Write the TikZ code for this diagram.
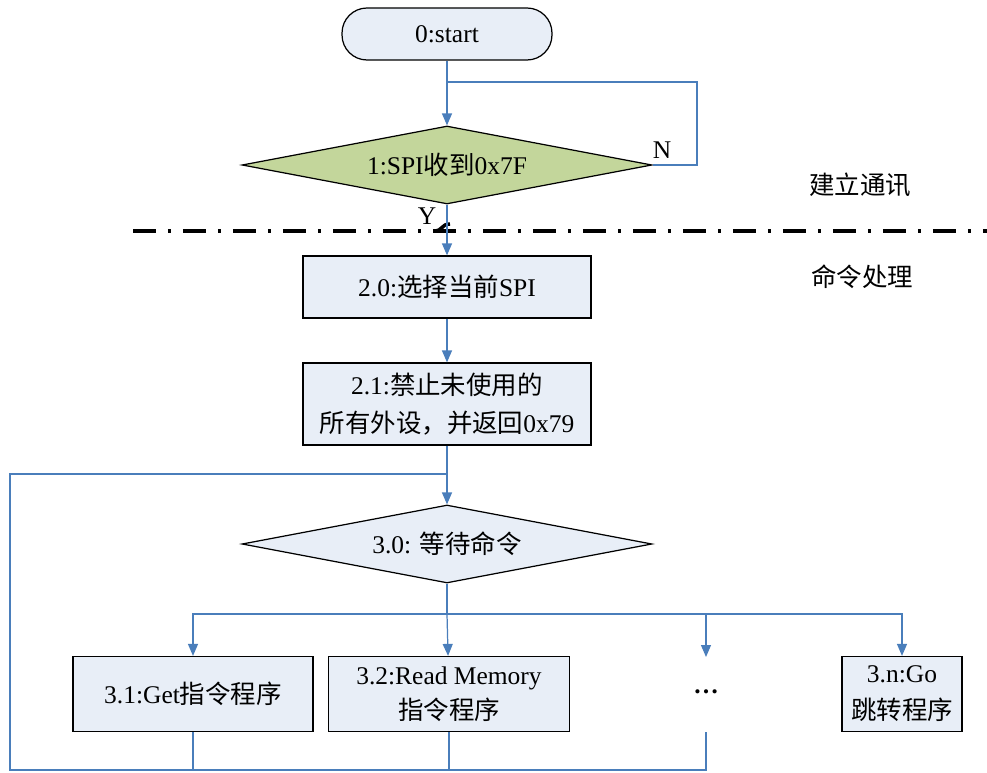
\documentclass[tikz,border=0pt]{standalone}
\usepackage{fontspec}
\setmainfont{Liberation Serif}
\newfontfamily\cjk{Noto Sans CJK SC}
\usetikzlibrary{shapes.geometric,arrows.meta}
\newcommand\zh[1]{{\cjk #1}}
\definecolor{linkblue}{HTML}{4A7EBB}
\definecolor{boxfill}{HTML}{E8EEF7}
\definecolor{condfill}{HTML}{C3D69B}
\begin{document}
\begin{tikzpicture}[x=0.02cm, y=-0.02cm,
    font=\fontsize{14.5}{20}\selectfont,
    term/.style = {draw, rectangle, rounded corners=5mm, fill=boxfill, line width=0.7pt,
                   minimum width=4.2cm, minimum height=1.04cm},
    cond/.style = {draw, diamond, inner sep=0pt, shape aspect=5.26, fill=boxfill, line width=0.7pt,
                   minimum width=8.2cm, minimum height=1.56cm},
    proc/.style = {draw, rectangle, fill=boxfill, line width=0.7pt, align=center,
                   minimum height=1.5cm},
    line/.style = {draw=linkblue, line width=0.7pt},
    arr/.style  = {line, -{Triangle[length=2.4mm,width=2mm]}},
    sep/.style  = {line width=2pt, dash pattern=on 0.46cm off 0.24cm on 0.06cm off 0.24cm}]
    \useasboundingbox (0,0) rectangle (987,773);

    \node[term] (0) at (447,34) {0:start};
    \node[cond, fill=condfill] (1) at (447,165) {1:SPI\zh{收到}0x7F};
    \node[proc, minimum width=5.76cm, minimum height=1.24cm] (20) at (447,287) {2.0:\zh{选择当前}SPI};
    \node[proc, minimum width=5.76cm, minimum height=1.64cm] (21) at (447,404)
        {2.1:\zh{禁止未使用的}\\[2pt]\zh{所有外设，并返回}0x79};
    \node[cond] (30) at (447,544) {3.0: \zh{等待命令}};
    \node[proc, minimum width=4.8cm] (31) at (193,694) {3.1:Get\zh{指令程序}};
    \node[proc, minimum width=4.82cm] (32) at (449,694) {3.2:Read Memory\\\zh{指令程序}};
    \node (dots) at (706,692) {\textbf{\dots}};
    \node[proc, minimum width=2.4cm] (3n) at (902,694) {3.n:Go\\[1pt]\zh{跳转程序}};

    \node (n) at (662,150) {N};
    \node (y) at (427,216) {Y};
    \node (comm) at (860,185) {\zh{建立通讯}};
    \node (cmd) at (862,277) {\zh{命令处理}};

    \coordinate (j1) at (447,82);
    \coordinate (j3) at (447,474);
    \coordinate (b) at (447,614);
    \coordinate (dt) at (706,657);
    \coordinate (db) at (706,732);
    \coordinate (r) at (10,770);

    % separator between the two stages
    \draw[sep] (133,231) -- (987,231);
    \draw[line width=2pt] (434,231) .. controls (443,231) and (441,224) .. (450,224);

    \draw[line] (0) -- (j1);
    \draw[arr] (j1) -- (1);
    \draw[line] (1.east) -| (697,82) -- (j1);
    \draw[arr] (1) -- (20);
    \draw[arr] (20) -- (21);
    \draw[line] (21) -- (j3);
    \draw[arr] (j3) -- (30);

    \draw[line] (30) -- (b);
    \draw[arr] (b) -| (31);
    \draw[arr] (b) -- (32);
    \draw[arr] (b) -| (dt);
    \draw[arr] (b) -| (3n);

    \draw[line] (31) |- (r);
    \draw[line] (32) -- (32 |- r);
    \draw[line] (db) |- (r) |- (j3);
\end{tikzpicture}
\end{document}
